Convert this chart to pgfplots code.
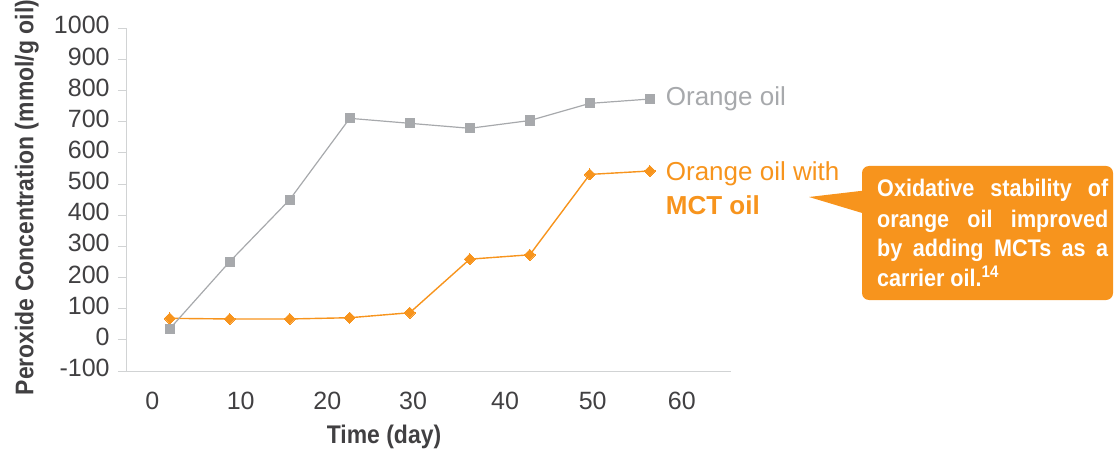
\documentclass[border=0pt]{standalone}
\usepackage{fontspec}
\setmainfont{Liberation Sans}
\newfontfamily\cond[FakeStretch=0.9]{Liberation Sans}
\usepackage{pgfplots}
\pgfplotsset{compat=1.18}
\definecolor{og}{HTML}{A7A9AC}
\definecolor{orng}{HTML}{F7941D}
\definecolor{tickc}{HTML}{414042}
\definecolor{axc}{HTML}{D1D3D4}
\begin{document}
\begin{tikzpicture}
\useasboundingbox (-126.8pt,-82pt) rectangle (987.2pt,371pt);
\begin{axis}[
  at={(0pt,0pt)}, anchor=south west,
  scale only axis, width=604.5pt, height=342.7pt,
  xmin=-5, xmax=65.5, ymin=-100, ymax=1000,
  clip=false,
  axis lines*=left,
  axis line style={axc, line width=0.9pt},
  tick style={axc, line width=0.9pt},
  tick align=outside,
  major tick length=9pt, minor tick length=7pt,
  ytick={-100,0,100,200,300,400,500,600,700,800,900,1000},
  yticklabels={-100,0,100,200,300,400,500,600,700,800,900,1000},
  yticklabel style={font=\fontsize{25}{30}\selectfont, text=tickc, anchor=east, inner sep=0pt, xshift=-8pt, yshift=3pt},
  xtick=\empty,
  minor xtick={-5,0,5,10,15,20,25,30,35,40,45,50,55,60,65},
  extra x ticks={-2.03,8.28,18.38,28.38,39.11,49.34,59.73},
  extra x tick labels={0,10,20,30,40,50,60},
  extra x tick style={major tick length=0pt, tick style={draw=none}},
  xticklabel style={font=\fontsize{25}{30}\selectfont, text=tickc, anchor=base, inner sep=0pt, yshift=-38pt},
  xlabel={Time (day)},
  ylabel={Peroxide Concentration (mmol/g oil)},
  xlabel style={font=\cond\bfseries\fontsize{25.5}{30}\selectfont, text=tickc, at={(axis description cs:0.4255,-0.2101)}, anchor=base, inner sep=0pt},
  ylabel style={font=\cond\bfseries\fontsize{25.5}{30}\selectfont, text=tickc, at={(axis description cs:-0.1547,0.506)}, anchor=base, inner sep=0pt},
]
\addplot[orng, line width=1.4pt, mark=square*, mark size=3.9pt, mark options={rotate=45, fill=orng, draw=orng, line width=0pt}]
  coordinates {(0,69) (7,67) (14,67) (21,71) (28,87) (35,259) (42,273) (49,531) (56,542)};
\addplot[og, line width=1.2pt, mark=square*, mark size=4.6pt, mark options={fill=og, draw=og, line width=0pt}]
  coordinates {(0,35) (7,251) (14,450) (21,711) (28,695) (35,679) (42,704) (49,759) (56,773)};
\end{axis}
\node[anchor=base west, inner sep=0pt, text=og, font=\fontsize{26}{30}\selectfont] at (538.9pt,265.3pt) {Orange oil};
\node[anchor=base west, inner sep=0pt, text=orng, font=\fontsize{26}{30}\selectfont] at (538.9pt,190.3pt) {Orange oil with};
\node[anchor=base west, inner sep=0pt, text=orng, font=\bfseries\fontsize{26}{30}\selectfont] at (538.9pt,156pt) {MCT oil};
\fill[orng, rounded corners=7pt] (735.2pt,71pt) rectangle (986.2pt,205pt);
\fill[orng] (682.2pt,174pt) -- (742pt,181pt) -- (742pt,156pt) -- cycle;
\begin{scope}[every node/.style={anchor=base west, inner sep=0pt, text=white, font=\cond\bfseries\fontsize{24}{29}\selectfont}]
\node at (750.2pt,174.3pt) {\makebox[231pt][s]{Oxidative stability of}};
\node at (750.2pt,143pt) {\makebox[231pt][s]{orange oil improved}};
\node at (750.2pt,114pt) {\makebox[231pt][s]{by adding MCTs as a}};
\node at (750.2pt,84.3pt) {carrier oil.\textsuperscript{14}};
\end{scope}
\end{tikzpicture}
\end{document}
